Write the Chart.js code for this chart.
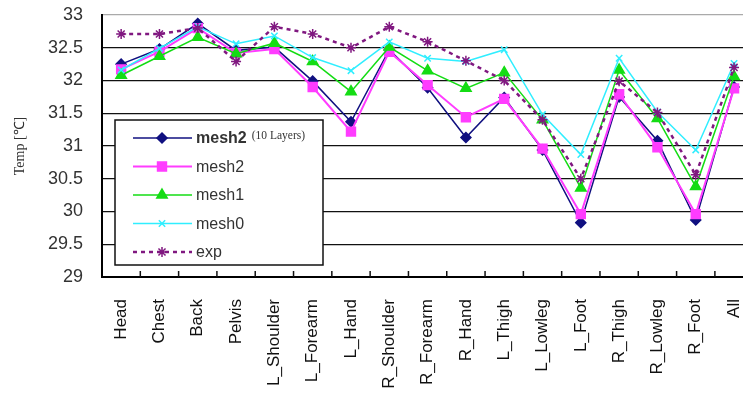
<!DOCTYPE html>
<html><head><meta charset="utf-8">
<script src="https://cdn.jsdelivr.net/npm/chart.js@4.4.1/dist/chart.umd.min.js"></script>
<style>
html,body{margin:0;padding:0;overflow:hidden;background:#fff;width:743px;height:393px}
#wrap{width:761px;height:393px;position:relative}
</style>
</head><body><div id="wrap"><canvas id="c" width="761" height="393"></canvas></div>
<script>
const categories = ['Head','Chest','Back','Pelvis','L_Shoulder','L_Forearm','L_Hand','R_Shoulder','R_Forearm','R_Hand','L_Thigh','L_Lowleg','L_Foot','R_Thigh','R_Lowleg','R_Foot','All'];
const mesh2Layers = [32.25,32.48,32.87,32.46,32.51,31.99,31.37,32.47,31.89,31.13,31.74,30.94,29.83,31.75,31.08,29.87,31.90];
const mesh2 = [32.17,32.44,32.80,32.42,32.48,31.90,31.22,32.44,31.93,31.44,31.72,30.96,29.96,31.79,30.98,29.96,31.88];
const mesh1 = [32.08,32.37,32.66,32.41,32.57,32.29,31.83,32.51,32.15,31.88,32.12,31.40,30.36,32.16,31.42,30.38,32.06];
const mesh0 = [32.16,32.49,32.82,32.56,32.68,32.35,32.15,32.59,32.34,32.29,32.47,31.48,30.87,32.34,31.52,30.94,32.26];
const expData = [32.71,32.71,32.80,32.29,32.82,32.71,32.50,32.82,32.59,32.30,32.00,31.40,30.50,31.99,31.51,30.56,32.20];
const yTicks = [29,29.5,30,30.5,31,31.5,32,32.5,33];
const seriesNames = ['mesh2','mesh2','mesh1','mesh0','exp'];
const firstSuffix = '(10 Layers)';
const yTitle = 'Temp [\u2103]';

function ds(label, data, color, style, r, bw, order, dash) {
  return {label, data, borderColor: color, backgroundColor: color, pointBackgroundColor: color,
    pointBorderColor: color, pointStyle: style, pointRadius: r, pointBorderWidth: 1.5,
    borderWidth: bw, tension: 0, order, borderDash: dash || []};
}

const extras = {
  id: 'extras',
  afterDatasetsDraw(chart) {
    const ctx = chart.ctx;
    const xs = chart.scales.x, a = chart.chartArea;
    ctx.save();
    ctx.strokeStyle = '#111'; ctx.lineWidth = 1.5;
    for (let i = 1; i < categories.length; i++) {
      const x = (xs.getPixelForValue(i - 1) + xs.getPixelForValue(i)) / 2;
      ctx.beginPath(); ctx.moveTo(x, a.bottom); ctx.lineTo(x, a.bottom - 6); ctx.stroke();
    }
    const bx = a.left + 13, by = 120, bw = 208, bh = 145;
    ctx.fillStyle = '#fff'; ctx.fillRect(bx, by, bw, bh);
    ctx.strokeStyle = '#111'; ctx.lineWidth = 1.5; ctx.strokeRect(bx, by, bw, bh);
    chart.data.datasets.forEach((d, i) => {
      const y = by + 18 + i * 28.5;
      ctx.setLineDash(d.borderDash || []);
      ctx.strokeStyle = d.borderColor; ctx.lineWidth = d.borderWidth;
      ctx.beginPath(); ctx.moveTo(bx + 18, y); ctx.lineTo(bx + 77, y); ctx.stroke();
      ctx.setLineDash([]);
      ctx.fillStyle = d.pointBackgroundColor; ctx.strokeStyle = d.pointBorderColor; ctx.lineWidth = d.pointBorderWidth;
      Chart.helpers.drawPoint(ctx, {pointStyle: d.pointStyle, radius: d.pointRadius, rotation: 0, borderWidth: d.pointBorderWidth}, bx + 47, y);
      ctx.fillStyle = '#333'; ctx.textBaseline = 'middle'; ctx.textAlign = 'left';
      ctx.font = (i === 0 ? 'bold ' : '') + '16px "Liberation Sans", Arial, sans-serif';
      ctx.fillText(seriesNames[i], bx + 81, y + 1);
      if (i === 0) {
        const w = ctx.measureText(seriesNames[i]).width;
        ctx.font = '11.5px "Liberation Serif", serif';
        ctx.fillText(firstSuffix, bx + 81 + w + 5, y - 2);
      }
    });
    ctx.restore();
  }
};

new Chart(document.getElementById('c'), {
  type: 'line',
  data: {
    labels: categories,
    datasets: [
      ds('mesh2 (10 Layers)', mesh2Layers, '#101080', 'rectRot', 5, 1.5, 5),
      ds('mesh2', mesh2, '#ff3cff', 'rect', 6.3, 2, 4),
      ds('mesh1', mesh1, '#14dc14', 'triangle', 6, 1.5, 3),
      ds('mesh0', mesh0, '#30eeff', 'crossRot', 4.5, 1.5, 2),
      ds('exp', expData, '#801880', 'star', 5, 2.5, 1, [4, 4])
    ]
  },
  options: {
    responsive: false, animation: false, devicePixelRatio: 1,
    layout: {padding: {top: 15, right: 0, left: 0, bottom: 0}},
    plugins: {legend: {display: false}, tooltip: {enabled: false}},
    scales: {
      x: {
        offset: true,
        grid: {display: false, drawTicks: false},
        border: {display: true, color: '#000', width: 2},
        ticks: {autoSkip: false, minRotation: 90, maxRotation: 90, padding: 22, color: '#111',
          font: {family: '"Liberation Sans", Arial, sans-serif', size: 17}},
        afterFit(s) { s.height = 116; s.paddingLeft = 0; s.paddingRight = 0; }
      },
      y: {
        min: 29, max: 33,
        afterBuildTicks(s) { s.ticks = yTicks.map(v => ({value: v})); },
        grid: {drawTicks: false, lineWidth: 1.3, color: c => (c.tick && c.tick.value === 33) ? '#aaaaaa' : '#111'},
        border: {display: true, color: '#000', width: 2},
        ticks: {padding: 19, color: '#333', callback: v => String(v),
          font: {family: '"Liberation Sans", Arial, sans-serif', size: 18}},
        title: {display: true, text: yTitle, color: '#333', padding: {top: 12, bottom: 0},
          font: {family: '"Liberation Serif", serif', size: 14}},
        afterFit(s) { s.width = 102; s.paddingTop = 0; s.paddingBottom = 0; }
      }
    }
  },
  plugins: [extras]
});
</script>
</body></html>
